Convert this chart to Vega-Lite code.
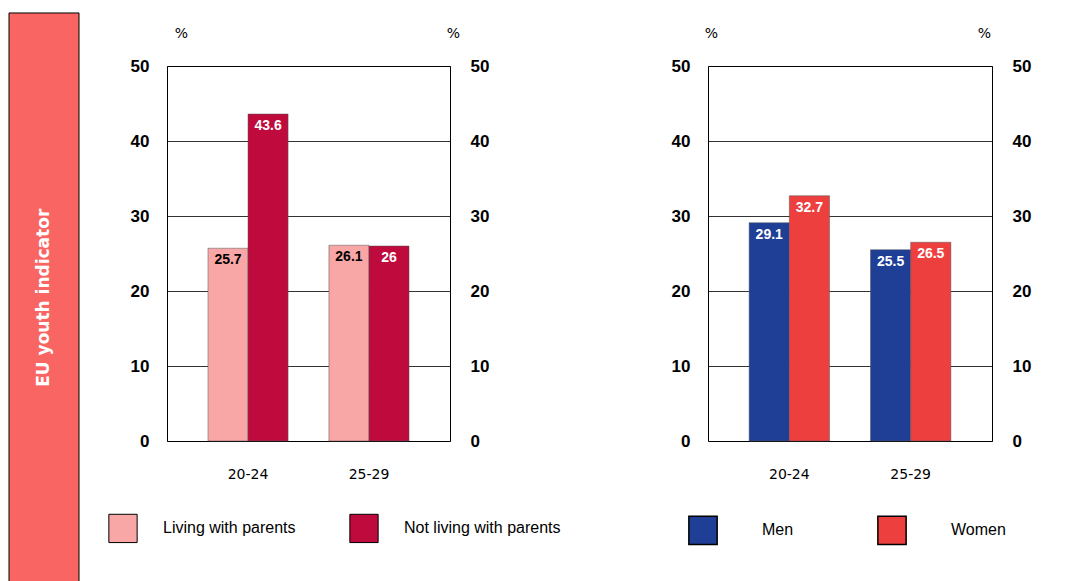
{
"$schema":"https://vega.github.io/schema/vega-lite/v6.json",
"padding":{"left":8,"top":12,"right":0,"bottom":0},
"background":"white",
"spacing":27,
"config":{"font":"Liberation Sans","view":{"stroke":"black"}},
"resolve":{"scale":{"color":"independent","x":"independent","xOffset":"independent","y":"independent"},"legend":{"color":"independent"}},
"datasets":{
"parents":[{"age":"20-24","group":"Living with parents","value":25.7},{"age":"20-24","group":"Not living with parents","value":43.6},{"age":"25-29","group":"Living with parents","value":26.1},{"age":"25-29","group":"Not living with parents","value":26}],
"sex":[{"age":"20-24","group":"Men","value":29.1},{"age":"20-24","group":"Women","value":32.7},{"age":"25-29","group":"Men","value":25.5},{"age":"25-29","group":"Women","value":26.5}],
"band":[{"label":"EU youth indicator","top":57.07,"bottom":-18.8,"mid":19.1}]
},
"hconcat":[
{"width":70,"height":375,"data":{"name":"band"},"view":{"stroke":null},
 "layer":[
  {"mark":{"type":"rect","color":"#f86562","stroke":"black","strokeWidth":1,"clip":false},
   "encoding":{"y":{"field":"top","type":"quantitative","scale":{"domain":[0,50]},"axis":null},"y2":{"field":"bottom"}}},
  {"mark":{"type":"text","angle":270,"color":"white","font":"DejaVu Sans","fontWeight":"bold","fontSize":17},
   "encoding":{"text":{"field":"label"},"y":{"field":"mid","type":"quantitative","scale":{"domain":[0,50]},"axis":null}}}
 ]},
{"spacing":108,
 "resolve":{"scale":{"color":"independent","x":"independent","xOffset":"independent","y":"independent"},"legend":{"color":"independent"}},
 "hconcat":[
{"width":283,"height":375,"data":{"name":"parents"},
 "encoding":{"x":{"field":"age","type":"nominal","scale":{"paddingInner":0,"paddingOuter":0.17},"axis":{"title":null,"labelAngle":0,"ticks":false,"domain":false,"labelFont":"DejaVu Sans","labelFontSize":14,"labelColor":"black","labelPadding":26}},
   "xOffset":{"field":"group","scale":{"paddingOuter":0.51,"paddingInner":0}},
   "y":{"field":"value","type":"quantitative","scale":{"domain":[0,50]}}},
 "layer":[
  {"mark":{"type":"bar","stroke":"#555","strokeWidth":0.5},
   "encoding":{"y":{"field":"value","type":"quantitative","scale":{"domain":[0,50]},"axis":{"orient":"left","title":"%","titleAngle":0,"titleX":14,"titleY":-33,"titleBaseline":"middle","titleFont":"DejaVu Sans","titleFontSize":14,"titleFontWeight":"normal","values":[0,10,20,30,40,50],"ticks":false,"domain":false,"gridColor":"black","gridOpacity":0.8,"labelFontWeight":"bold","labelFontSize":17,"labelColor":"black","labelPadding":18}},
    "color":{"field":"group","type":"nominal","scale":{"range":["#f8a6a6","#be0a3c"]},"legend":{"title":null,"orient":"none","legendX":-59,"legendY":447,"direction":"horizontal","columns":2,"symbolType":"square","symbolSize":800,"symbolStrokeColor":"black","symbolStrokeWidth":1,"symbolOpacity":1,"labelFontSize":16,"labelColor":"black","labelOffset":25,"columnPadding":51,"labelLimit":300}}}},
  {"mark":{"type":"text","baseline":"top","dy":5,"fontWeight":"bold","fontSize":14},
   "encoding":{"text":{"field":"value"},
    "y":{"field":"value","type":"quantitative","scale":{"domain":[0,50]},"axis":{"orient":"right","title":"%","titleAngle":0,"titleX":3,"titleY":-33,"titleBaseline":"middle","titleFont":"DejaVu Sans","titleFontSize":14,"titleFontWeight":"normal","values":[0,10,20,30,40,50],"ticks":false,"domain":false,"grid":false,"labelFontWeight":"bold","labelFontSize":17,"labelColor":"black","labelPadding":20}},
    "color":{"condition":{"test":"datum.group==='Living with parents'","value":"black"},"value":"white"}}}
 ],
 "resolve":{"axis":{"y":"independent"}}},
{"width":284,"height":375,"data":{"name":"sex"},
 "encoding":{"x":{"field":"age","type":"nominal","scale":{"paddingInner":0,"paddingOuter":0.17},"axis":{"title":null,"labelAngle":0,"ticks":false,"domain":false,"labelFont":"DejaVu Sans","labelFontSize":14,"labelColor":"black","labelPadding":26}},
   "xOffset":{"field":"group","scale":{"paddingOuter":0.51,"paddingInner":0}},
   "y":{"field":"value","type":"quantitative","scale":{"domain":[0,50]}}},
 "layer":[
  {"mark":{"type":"bar","stroke":"#555","strokeWidth":0.5},
   "encoding":{"y":{"field":"value","type":"quantitative","scale":{"domain":[0,50]},"axis":{"orient":"left","title":"%","titleAngle":0,"titleX":3,"titleY":-33,"titleBaseline":"middle","titleFont":"DejaVu Sans","titleFontSize":14,"titleFontWeight":"normal","values":[0,10,20,30,40,50],"ticks":false,"domain":false,"gridColor":"black","gridOpacity":0.8,"labelFontWeight":"bold","labelFontSize":17,"labelColor":"black","labelPadding":18}},
    "color":{"field":"group","type":"nominal","scale":{"range":["#1f3f96","#ee3f3f"]},"legend":{"title":null,"orient":"none","legendX":-20,"legendY":449,"direction":"horizontal","columns":2,"symbolType":"square","symbolSize":800,"symbolStrokeColor":"black","symbolStrokeWidth":1.5,"symbolOpacity":1,"labelFontSize":16,"labelColor":"black","labelOffset":44,"columnPadding":80,"labelLimit":300}}}},
  {"mark":{"type":"text","baseline":"top","dy":5,"fontWeight":"bold","fontSize":14,"color":"white"},
   "encoding":{"text":{"field":"value"},
    "y":{"field":"value","type":"quantitative","scale":{"domain":[0,50]},"axis":{"orient":"right","title":"%","titleAngle":0,"titleX":-8,"titleY":-33,"titleBaseline":"middle","titleFont":"DejaVu Sans","titleFontSize":14,"titleFontWeight":"normal","values":[0,10,20,30,40,50],"ticks":false,"domain":false,"grid":false,"labelFontWeight":"bold","labelFontSize":17,"labelColor":"black","labelPadding":20}}}}
 ],
 "resolve":{"axis":{"y":"independent"}}}
 ]}
]
}
